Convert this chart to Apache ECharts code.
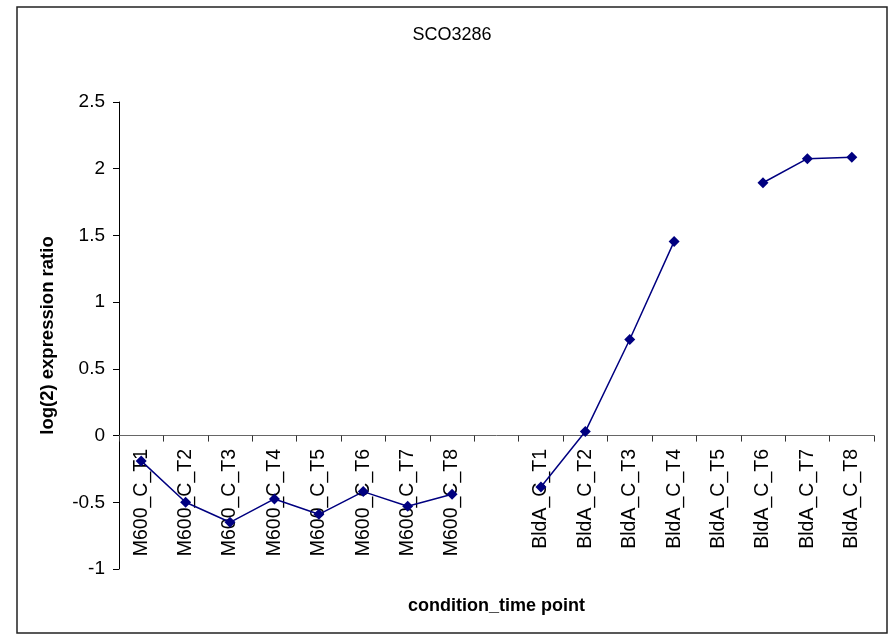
<!DOCTYPE html>
<html>
<head>
<meta charset="utf-8">
<script src="https://cdn.jsdelivr.net/npm/echarts@6/dist/echarts.min.js"></script>
<style>
  html, body { margin: 0; padding: 0; background: #fff; }
  #chart { width: 890px; height: 636px; }
</style>
</head>
<body>
<div id="chart"></div>
<script>
  // categories, the empty one is the gap between the two conditions
  const categories = [
    'M600_C_T1', 'M600_C_T2', 'M600_C_T3', 'M600_C_T4',
    'M600_C_T5', 'M600_C_T6', 'M600_C_T7', 'M600_C_T8',
    '',
    'BldA_C_T1', 'BldA_C_T2', 'BldA_C_T3', 'BldA_C_T4',
    'BldA_C_T5', 'BldA_C_T6', 'BldA_C_T7', 'BldA_C_T8'
  ]
  const m600 = [-0.19, -0.50, -0.65, -0.475, -0.59, -0.42, -0.53, -0.44]
  const bldA = [-0.385, 0.03, 0.72, 1.455, null, 1.895, 2.075, 2.085]
  const values = m600.concat([null], bldA)
  const yTicks = { min: -1, max: 2.5, interval: 0.5 }

  const font = 'Liberation Sans, Arial, sans-serif'
  let myChart = echarts.init(document.getElementById('chart'))
  myChart.setOption({
    animation: false,
    title: {
      text: 'SCO3286',
      left: 447,
      top: 21,
      textAlign: 'center',
      textStyle: { fontSize: 18, fontWeight: 'normal', color: '#000', fontFamily: font }
    },
    graphic: [{
      type: 'rect',
      shape: { x: 17, y: 7, width: 870, height: 626 },
      style: { fill: null, stroke: '#222', lineWidth: 1.5 },
      silent: true
    }],
    grid: {
      left: 119,
      right: 16,
      top: 102,
      bottom: 67,
      outerBoundsMode: 'none',
      containLabel: false
    },
    xAxis: {
      type: 'category',
      data: categories,
      boundaryGap: true,
      name: 'condition_time point',
      nameLocation: 'middle',
      nameGap: 28,
      nameTextStyle: { fontSize: 18, fontWeight: 'bold', color: '#000', fontFamily: font, verticalAlign: 'top' },
      axisLine: { onZero: true, lineStyle: { color: '#666', width: 1 } },
      axisTick: { show: true, length: 6, inside: false, lineStyle: { color: '#333' } },
      axisLabel: {
        interval: 0,
        rotate: 90,
        // labels stay at the grid bottom in v6, pull them up under the zero line
        margin: -120,
        fontSize: 19.5,
        color: '#000',
        fontFamily: font
      },
      splitLine: { show: false }
    },
    yAxis: {
      type: 'value',
      min: yTicks.min,
      max: yTicks.max,
      interval: yTicks.interval,
      name: 'log(2) expression ratio',
      nameLocation: 'middle',
      nameGap: 62,
      nameTextStyle: { fontSize: 18.5, fontWeight: 'bold', color: '#000', fontFamily: font },
      axisLine: { show: true, lineStyle: { color: '#000', width: 1 } },
      axisTick: { show: true, length: 6, lineStyle: { color: '#000' } },
      axisLabel: { fontSize: 19, color: '#000', margin: 14, fontFamily: font },
      splitLine: { show: false }
    },
    series: [
      {
        name: 'SCO3286',
        type: 'line',
        data: values,
        connectNulls: false,
        symbol: 'diamond',
        symbolSize: 11,
        itemStyle: { color: '#000080' },
        lineStyle: { color: '#000080', width: 1.5 }
      }
    ]
  })
</script>
</body>
</html>
